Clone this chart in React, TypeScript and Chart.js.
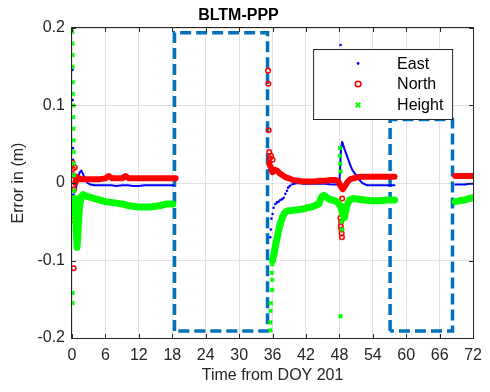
import React, { useEffect, useRef } from 'react';
import { Chart, registerables } from 'chart.js';

Chart.register(...registerables);

type P = [number, number | null];

const chartTitle = 'BLTM-PPP';
const xTitle = 'Time from DOY 201';
const yTitle = 'Error in (m)';
const legendLabels = ['East', 'North', 'Height'];
const xRange = [0, 72];
const xStep = 6;
const yRange = [-0.2, 0.2];
const yStep = 0.1;

// East (blue), continuous parts; null separates the data gaps
const eastLine: P[] = [
  [0.5, -0.012], [0.8, -0.003], [1.1, 0.008], [1.4, 0.014], [1.7, 0.016], [2.0, 0.011], [2.4, 0.004],
  [2.8, 0.0], [3.3, -0.002], [4, -0.003], [5, -0.003], [6, -0.003], [7, -0.003], [8, -0.004],
  [9, -0.003], [10, -0.003], [11, -0.004], [12, -0.004], [13, -0.003], [14, -0.003], [15, -0.003],
  [16, -0.003], [17, -0.003], [18.2, -0.003],
  [18.3, null],
  [39.4, -0.002], [40.5, 0.0], [41.5, -0.001], [42.5, -0.001], [43.5, -0.001], [44.5, -0.001],
  [45.5, -0.001], [46.5, -0.002], [47.5, -0.002], [48.0, 0.0], [48.3, 0.045], [48.5, 0.053],
  [48.9, 0.044], [49.4, 0.034], [49.9, 0.024], [50.3, 0.017], [50.8, 0.012], [51.2, 0.009],
  [51.7, 0.003], [52.1, 0.0], [53, -0.003], [54, -0.003], [55, -0.003], [56, -0.003], [57, -0.003],
  [57.9, -0.003],
  [58.0, null],
  [68.8, -0.002], [69.5, -0.002], [70.5, -0.002], [71.3, -0.001], [72, -0.001],
];

// East isolated samples
const eastPoints: P[] = [
  [0.05, 0.2], [0.1, 0.146], [0.12, 0.107], [0.15, 0.045], [0.2, 0.03], [0.25, -0.015], [0.3, -0.025],
  [0.35, -0.04], [0.4, -0.02],
  [35.6, -0.07], [35.7, -0.06], [35.8, -0.046], [36.0, -0.04], [36.2, -0.032], [36.5, -0.027],
  [36.8, -0.025], [37.1, -0.024], [37.4, -0.022], [37.7, -0.021], [38.0, -0.019], [38.3, -0.014],
  [38.6, -0.01], [38.8, -0.006], [39.1, -0.004],
  [48.2, 0.178],
];

// North (red)
const northLine: P[] = [
  [0.6, 0.0], [0.8, 0.008], [1.0, 0.004], [1.3, 0.006], [1.7, 0.005], [2.2, 0.005], [3, 0.005],
  [4, 0.005], [5, 0.005], [6, 0.006], [6.6, 0.009], [7.2, 0.006], [8, 0.006], [9, 0.006],
  [9.6, 0.009], [10.2, 0.006], [11, 0.006], [12, 0.006], [13, 0.006], [14, 0.006], [15, 0.006],
  [16, 0.006], [17, 0.006], [18.6, 0.006],
  [18.7, null],
  [35.4, 0.025], [35.7, 0.02], [36.0, 0.014], [36.4, 0.017], [36.8, 0.016], [37.2, 0.013],
  [37.6, 0.011], [38.0, 0.009], [38.5, 0.007], [39.0, 0.006], [39.6, 0.004], [40.5, 0.003],
  [41.5, 0.002], [42.5, 0.002], [43.5, 0.002], [44.5, 0.003], [45.5, 0.003], [46.5, 0.004],
  [47.3, 0.004], [47.8, 0.002], [48.2, -0.004], [48.6, -0.008], [49.0, -0.004], [49.5, 0.002],
  [50, 0.005], [51, 0.007], [52, 0.008], [53, 0.008], [54, 0.008], [55, 0.008], [56, 0.008],
  [57, 0.008], [57.9, 0.008],
  [58.0, null],
  [68.8, 0.009], [70, 0.009], [71, 0.009], [72, 0.009],
];

const northPoints: P[] = [
  [0.1, 0.026], [0.15, 0.018], [0.2, 0.01], [0.15, -0.02], [0.1, -0.033], [0.2, -0.048],
  [0.3, -0.11], [0.4, -0.008], [0.5, 0.02],
  [35.2, 0.145], [35.25, 0.128], [35.3, 0.068], [35.4, 0.04], [35.5, 0.032], [35.7, 0.035],
  [36.0, 0.03],
  [48.2, -0.045], [48.3, -0.05], [48.25, -0.056], [48.35, -0.06], [48.4, -0.065], [48.45, -0.07],
  [48.5, -0.02], [48.4, -0.03],
];

// Height (green)
const heightLine: P[] = [
  [0.5, -0.02], [0.7, -0.05], [0.9, -0.083], [1.1, -0.06], [1.3, -0.035], [1.6, -0.018],
  [2.0, -0.015], [2.5, -0.017], [3, -0.018], [4, -0.02], [5, -0.022], [6, -0.024], [7, -0.025],
  [8, -0.026], [9, -0.027], [10, -0.029], [11, -0.03], [12, -0.031], [13, -0.031], [14, -0.031],
  [15, -0.03], [16, -0.029], [17, -0.027], [18.1, -0.027],
  [18.2, null],
  [36.0, -0.1], [36.3, -0.09], [36.6, -0.078], [37.0, -0.065], [37.4, -0.052], [37.8, -0.044],
  [38.2, -0.038], [38.7, -0.036], [40.0, -0.035], [41.2, -0.034], [42.2, -0.032], [43.0, -0.031],
  [44.3, -0.027], [44.8, -0.018], [45.2, -0.016], [46.0, -0.02], [46.6, -0.022], [47.3, -0.023],
  [47.8, -0.026], [48.2, -0.03], [48.6, -0.04], [48.9, -0.045], [49.3, -0.03], [49.8, -0.022],
  [50.5, -0.02], [51.5, -0.021], [52.5, -0.022], [53.5, -0.023], [54.5, -0.023], [55.5, -0.023],
  [56.5, -0.022], [57.9, -0.022],
  [58.0, null],
  [68.8, -0.024], [69.5, -0.023], [70.5, -0.022], [71.3, -0.02], [72, -0.019],
];

const heightPoints: P[] = [
  [0.05, 0.195], [0.08, 0.18], [0.1, 0.165], [0.12, 0.15], [0.14, 0.13], [0.16, 0.115], [0.18, 0.1],
  [0.2, 0.085], [0.22, 0.07], [0.25, 0.055], [0.28, 0.04], [0.3, 0.025], [0.35, 0.01], [0.4, -0.01],
  [0.45, -0.04], [0.5, -0.06], [0.1, -0.142], [0.1, -0.155],
  [35.6, -0.19], [35.6, -0.18], [35.65, -0.165], [35.7, -0.155], [35.9, -0.138], [35.95, -0.125],
  [35.85, -0.116], [35.95, -0.105],
  [48.1, 0.045], [48.1, 0.035], [48.15, 0.025], [48.2, 0.015], [48.2, -0.172], [48.4, -0.05],
  [48.45, -0.06],
];

// Dashed boxes marking the data gaps
const gapBox1: P[] = [[18.4, -0.191], [18.4, 0.194], [35.1, 0.194], [35.1, -0.191], [18.4, -0.191]];
const gapBox2: P[] = [[57.1, -0.191], [57.1, 0.082], [68.3, 0.082], [68.3, -0.191], [57.1, -0.191]];

const BLUE = '#0000ff';
const RED = '#ff0000';
const GREEN = '#00ff00';
const BOX_BLUE = '#0072bd';
const AXIS = '#262626';
const FONT = '"Liberation Sans", Arial, Helvetica, sans-serif';

const toXY = (arr: P[]) => arr.map(([x, y]) => ({ x, y }));

const framePlugin = {
  id: 'frame',
  afterDraw(chart: any) {
    const { ctx, chartArea: a, scales } = chart;
    ctx.save();
    ctx.strokeStyle = AXIS;
    ctx.lineWidth = 1;
    ctx.beginPath();
    scales.x.ticks.forEach((t: any) => {
      const px = Math.round(scales.x.getPixelForValue(t.value)) + 0.5;
      ctx.moveTo(px, a.bottom);
      ctx.lineTo(px, a.bottom - 4);
      ctx.moveTo(px, a.top);
      ctx.lineTo(px, a.top + 4);
    });
    scales.y.ticks.forEach((t: any) => {
      const py = Math.round(scales.y.getPixelForValue(t.value)) + 0.5;
      ctx.moveTo(a.left, py);
      ctx.lineTo(a.left + 4, py);
      ctx.moveTo(a.right, py);
      ctx.lineTo(a.right - 4, py);
    });
    ctx.stroke();
    ctx.strokeRect(Math.round(a.left) - 0.5, Math.round(a.top) - 0.5, Math.round(a.right - a.left) + 1, Math.round(a.bottom - a.top) + 1);

    // legend
    const lx = a.right - 160;
    const ly = a.top + 21;
    const lw = 139;
    const lh = 70;
    ctx.fillStyle = '#ffffff';
    ctx.fillRect(lx, ly, lw, lh);
    ctx.strokeStyle = AXIS;
    ctx.strokeRect(lx + 0.5, ly + 0.5, lw, lh);
    const rows = [ly + 14.5, ly + 35, ly + 56];
    const mx = lx + 45;
    // East marker
    ctx.fillStyle = BLUE;
    ctx.beginPath();
    ctx.arc(mx, rows[0], 1.4, 0, Math.PI * 2);
    ctx.fill();
    // North marker
    ctx.strokeStyle = RED;
    ctx.lineWidth = 1.6;
    ctx.beginPath();
    ctx.arc(mx, rows[1], 2.8, 0, Math.PI * 2);
    ctx.stroke();
    // Height marker
    ctx.strokeStyle = GREEN;
    ctx.lineWidth = 2;
    ctx.beginPath();
    ctx.moveTo(mx - 2.2, rows[2] - 2.2);
    ctx.lineTo(mx + 2.2, rows[2] + 2.2);
    ctx.moveTo(mx + 2.2, rows[2] - 2.2);
    ctx.lineTo(mx - 2.2, rows[2] + 2.2);
    ctx.stroke();
    ctx.fillStyle = '#000000';
    ctx.font = `16px ${FONT}`;
    ctx.textAlign = 'left';
    ctx.textBaseline = 'middle';
    legendLabels.forEach((label, i) => ctx.fillText(label, lx + 84, rows[i] + 1));
    ctx.restore();
  },
};

export default function App() {
  const canvasRef = useRef<HTMLCanvasElement | null>(null);

  useEffect(() => {
    document.body.style.margin = '0';
    const canvas = canvasRef.current;
    if (!canvas) return;
    const lineDs = (data: P[], color: string, width: number, order: number) => ({
      data: toXY(data),
      showLine: true,
      spanGaps: false,
      borderColor: color,
      borderWidth: width,
      pointRadius: 0,
      borderJoinStyle: 'round' as const,
      borderCapStyle: 'round' as const,
      order,
    });
    const chart = new Chart(canvas, {
      type: 'scatter',
      data: {
        datasets: [
          lineDs(heightLine, GREEN, 7, 1),
          {
            data: toXY(heightPoints),
            pointStyle: 'crossRot',
            pointRadius: 2.5,
            pointBorderWidth: 2,
            borderColor: GREEN,
            backgroundColor: GREEN,
            order: 1,
          },
          lineDs(northLine, RED, 6, 2),
          {
            data: toXY(northPoints),
            pointStyle: 'circle',
            pointRadius: 2.3,
            pointBorderWidth: 1.5,
            borderColor: RED,
            backgroundColor: 'rgba(0,0,0,0)',
            order: 2,
          },
          lineDs(eastLine, BLUE, 2, 3),
          {
            data: toXY(eastPoints),
            pointStyle: 'circle',
            pointRadius: 1.3,
            pointBorderWidth: 0,
            borderColor: BLUE,
            backgroundColor: BLUE,
            order: 3,
          },
          ...[gapBox1, gapBox2].map((b) => ({
            data: toXY(b),
            showLine: true,
            borderColor: BOX_BLUE,
            borderWidth: 3.5,
            borderDash: [11, 5],
            borderCapStyle: 'butt' as const,
            borderJoinStyle: 'miter' as const,
            pointRadius: 0,
            order: 10,
          })),
        ],
      },
      options: {
        animation: false,
        responsive: true,
        maintainAspectRatio: false,
        devicePixelRatio: 1,
        events: [],
        layout: { padding: { left: 0, right: 13, top: 0, bottom: 0 } },
        plugins: {
          legend: { display: false },
          tooltip: { enabled: false },
          title: {
            display: true,
            text: chartTitle,
            color: '#000000',
            font: { family: FONT, size: 16, weight: 'bold' },
            padding: { top: 5.5, bottom: 3.3 },
          },
        },
        scales: {
          x: {
            type: 'linear',
            min: xRange[0],
            max: xRange[1],
            afterFit: (s: any) => { s.height = 54; },
            ticks: {
              stepSize: xStep,
              color: AXIS,
              font: { family: FONT, size: 16 },
              padding: 8,
              maxRotation: 0,
            },
            grid: { color: '#e1e1e1', drawTicks: false, lineWidth: 1 },
            border: { display: false },
            title: {
              display: true,
              text: xTitle,
              color: AXIS,
              font: { family: FONT, size: 16 },
              padding: { top: 0, bottom: 7 },
            },
          },
          y: {
            type: 'linear',
            min: yRange[0],
            max: yRange[1],
            afterFit: (s: any) => { s.width = 72; },
            ticks: {
              stepSize: yStep,
              color: AXIS,
              font: { family: FONT, size: 16 },
              padding: 7,
              callback: (v: any) => {
                const r = Math.round(Number(v) * 10) / 10;
                return r === 0 ? '0' : String(r);
              },
            },
            grid: { color: '#e1e1e1', drawTicks: false, lineWidth: 1 },
            border: { display: false },
            title: {
              display: true,
              text: yTitle,
              color: AXIS,
              font: { family: FONT, size: 16 },
              padding: { top: 9, bottom: 0 },
            },
          },
        },
      },
      plugins: [framePlugin],
    });
    return () => chart.destroy();
  }, []);

  return (
    <div style={{ width: 490, height: 392, position: 'relative', background: '#ffffff' }}>
      <canvas ref={canvasRef} />
    </div>
  );
}
